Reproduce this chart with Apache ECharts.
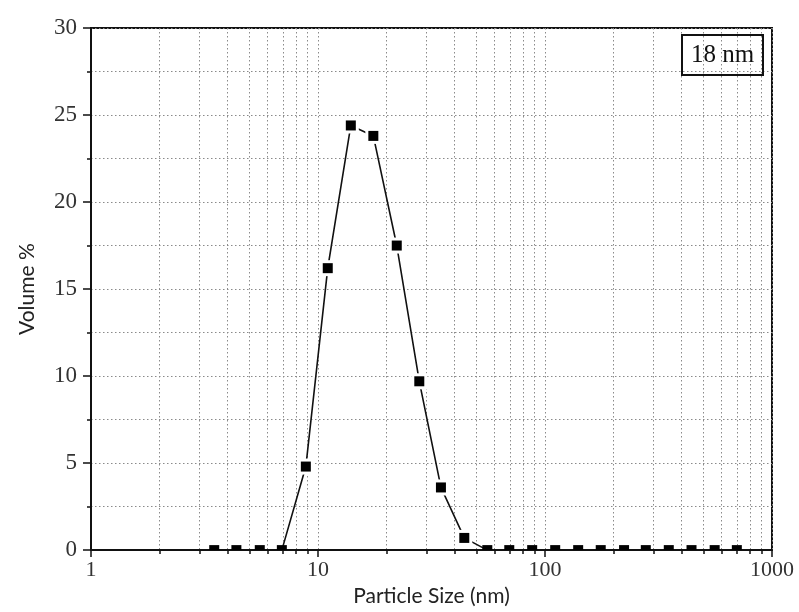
<!DOCTYPE html>
<html>
<head>
<meta charset="utf-8">
<script src="https://cdn.jsdelivr.net/npm/echarts@6/dist/echarts.min.js"></script>
<style>
  html, body { margin: 0; padding: 0; background: #fff; }
  #chart { width: 799px; height: 612px; }
</style>
</head>
<body>
<div id="chart"></div>
<script>
// Particle size distribution (volume %) on a logarithmic size axis
const particleSizes = [3.49, 4.37, 5.54, 6.93, 8.84, 11.04, 13.95, 17.53, 22.23, 27.94, 34.8, 44.1,
                       55.7, 69.6, 87.8, 110.9, 140, 176, 223, 278, 351, 442, 559, 700];
const volumePercent = [0, 0, 0, 0, 4.8, 16.2, 24.4, 23.8, 17.5, 9.7, 3.6, 0.7,
                       0, 0, 0, 0, 0, 0, 0, 0, 0, 0, 0, 0];
const yTicks = [0, 5, 10, 15, 20, 25, 30];
const xTicks = [1, 10, 100, 1000];
const sizeLabel = '18 nm';

const points = particleSizes.map((s, i) => [s, volumePercent[i]]);

const tickFont = 'Liberation Serif';
const nameFont = 'Lato';
const dotted = { color: '#8a8a8a', width: 1, type: [1.5, 2.5] };

const chart = echarts.init(document.getElementById('chart'), null, { renderer: 'canvas' });
chart.setOption({
  animation: false,
  backgroundColor: '#fff',
  grid: { left: 91, top: 28, width: 681, height: 525, show: true, borderColor: '#111', borderWidth: 2, backgroundColor: 'transparent' },
  title: {
    text: sizeLabel,
    left: 682, top: 35,
    padding: [7, 9, 7, 9],
    borderColor: '#111', borderWidth: 2,
    textStyle: { fontFamily: 'Liberation Serif', fontSize: 25, fontWeight: 'normal', color: '#111', lineHeight: 26 }
  },
  xAxis: {
    type: 'log', logBase: 10, min: xTicks[0], max: xTicks[xTicks.length - 1],
    name: 'Particle Size (nm)', nameLocation: 'middle', nameGap: 32,
    nameTextStyle: { fontFamily: nameFont, fontSize: 21, color: '#222' },
    axisLine: { lineStyle: { color: '#111', width: 2 } },
    axisTick: { show: true, inside: false, length: 7, lineStyle: { color: '#111', width: 1.5 } },
    minorTick: { show: true, splitNumber: 9, length: 4, lineStyle: { color: '#111', width: 1.5 } },
    axisLabel: { fontFamily: tickFont, fontSize: 22, color: '#333', margin: 9,
                 formatter: v => String(v) },
    splitLine: { show: true, lineStyle: dotted },
    minorSplitLine: { show: true, lineStyle: dotted }
  },
  yAxis: {
    type: 'value', min: 0, max: 30, interval: 5,
    name: 'Volume %', nameLocation: 'middle', nameGap: 53, nameRotate: 90,
    nameTextStyle: { fontFamily: nameFont, fontSize: 21, color: '#222' },
    axisLine: { show: true, lineStyle: { color: '#111', width: 2 } },
    axisTick: { show: true, inside: false, length: 8, lineStyle: { color: '#111', width: 1.5 } },
    minorTick: { show: true, splitNumber: 2, length: 4, lineStyle: { color: '#111', width: 1.5 } },
    axisLabel: { fontFamily: tickFont, fontSize: 23, color: '#333', margin: 14,
                 formatter: v => (yTicks.includes(v) ? String(v) : '') },
    splitLine: { show: true, lineStyle: dotted },
    minorSplitLine: { show: true, lineStyle: dotted }
  },
  series: [
    {
      type: 'line',
      data: points,
      showSymbol: false,
      symbol: 'none',
      lineStyle: { color: '#111', width: 1.6 },
      z: 3
    },
    {
      // square markers; clipped to the plotting area so zero values sit on the axis
      type: 'custom',
      clip: true,
      z: 4,
      data: points,
      renderItem: function (params, api) {
        const p = api.coord([api.value(0), api.value(1)]);
        const children = [];
        if (api.value(1) > 0) {
          children.push({ type: 'rect', shape: { x: p[0] - 8, y: p[1] - 8, width: 16, height: 16 },
                          style: { fill: '#fff' } });
        }
        children.push({ type: 'rect', shape: { x: p[0] - 5, y: p[1] - 5, width: 10, height: 10 },
                        style: { fill: '#000' } });
        return { type: 'group', children: children };
      }
    }
  ]
});
</script>
</body>
</html>
